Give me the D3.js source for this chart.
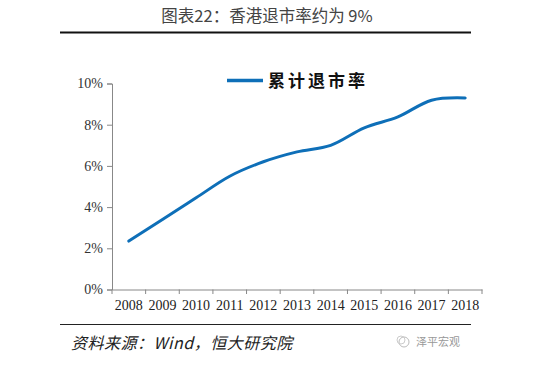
<!DOCTYPE html>
<html><head><meta charset="utf-8">
<script src="https://cdn.jsdelivr.net/npm/d3@7"></script>
<style>html,body{margin:0;padding:0;background:#fff;}svg{display:block;}</style>
</head><body>
<script>
const years = ["2008","2009","2010","2011","2012","2013","2014","2015","2016","2017","2018"];
const rates = [2.35, 3.4, 4.45, 5.5, 6.2, 6.68, 7.0, 7.85, 8.38, 9.19, 9.3];
const yTicks = [0, 2, 4, 6, 8, 10];
const titleText = "图表22：香港退市率约为 9%";
const legendText = "累计退市率";
const sourceText = "资料来源：Wind，恒大研究院";
const watermark = "泽平宏观";

const W = 550, H = 378;
const svg = d3.select("body").append("svg").attr("width", W).attr("height", H);

const x = d3.scaleBand().domain(years).range([112, 482]);
const y = d3.scaleLinear().domain([0, 10]).range([289.5, 83.5]);

// title
svg.append("text").attr("x", 267).attr("y", 22).attr("text-anchor", "middle")
  .attr("font-family", "'Noto Sans CJK SC', sans-serif").attr("font-size", 16.5)
  .attr("fill", "#444").text(titleText);
svg.append("line").attr("x1", 60).attr("x2", 471).attr("y1", 32.5).attr("y2", 32.5)
  .attr("stroke", "#111").attr("stroke-width", 1.8);

// y axis
const yAxis = svg.append("g").attr("transform", "translate(112,0)")
  .call(d3.axisLeft(y).tickValues(yTicks).tickFormat(d => d + "%").tickSize(5).tickPadding(4));
yAxis.select(".domain").attr("stroke", "#888");
yAxis.selectAll(".tick line").attr("stroke", "#888");
yAxis.selectAll("text").attr("font-family", "'Liberation Serif', serif").attr("font-size", 14).attr("fill", "#333");

// x axis
const xAxis = svg.append("g").attr("transform", "translate(0,289.5)")
  .call(d3.axisBottom(x).tickSize(0).tickPadding(11));
xAxis.select(".domain").attr("stroke", "#888");
xAxis.selectAll("text").attr("font-family", "'Liberation Serif', serif").attr("font-size", 14).attr("fill", "#222");
// category boundary ticks
svg.append("g").selectAll("line").data(years.concat(["end"])).join("line")
  .attr("x1", (d, i) => x.range()[0] + i * x.step()).attr("x2", (d, i) => x.range()[0] + i * x.step())
  .attr("y1", 289.5).attr("y2", 294).attr("stroke", "#888");

// line
const line = d3.line().x((d, i) => x(years[i]) + x.bandwidth() / 2).y(d => y(d)).curve(d3.curveCatmullRom.alpha(0.5));
svg.append("path").datum(rates).attr("d", line).attr("fill", "none")
  .attr("stroke", "#0e6fb8").attr("stroke-width", 3).attr("stroke-linecap", "round");

// legend
svg.append("line").attr("x1", 227).attr("x2", 263).attr("y1", 80.5).attr("y2", 80.5)
  .attr("stroke", "#0e6fb8").attr("stroke-width", 3.5);
svg.append("text").attr("x", 268).attr("y", 87).attr("font-family", "'Noto Sans CJK SC', sans-serif")
  .attr("font-weight", "bold").attr("font-size", 17).attr("letter-spacing", 3).attr("fill", "#111").text(legendText);

// bottom rule and source
svg.append("line").attr("x1", 60).attr("x2", 471).attr("y1", 324.5).attr("y2", 324.5)
  .attr("stroke", "#222").attr("stroke-width", 1.2);
svg.append("text").attr("x", 71).attr("y", 349).attr("font-family", "'Noto Sans CJK SC', sans-serif")
  .attr("font-style", "italic").attr("font-size", 16).attr("letter-spacing", 0.5).attr("fill", "#222").text(sourceText);

// watermark
const wm = svg.append("g").attr("transform", "translate(404,342)");
wm.append("circle").attr("r", 5).attr("fill", "none").attr("stroke", "#bbb").attr("stroke-width", 1);
wm.append("circle").attr("cx", -3).attr("cy", -2).attr("r", 4).attr("fill", "none").attr("stroke", "#ccc").attr("stroke-width", 1);
svg.append("text").attr("x", 416).attr("y", 346).attr("font-family", "'Noto Sans CJK SC', sans-serif")
  .attr("font-size", 11).attr("fill", "#999").text(watermark);
</script>
</body></html>
